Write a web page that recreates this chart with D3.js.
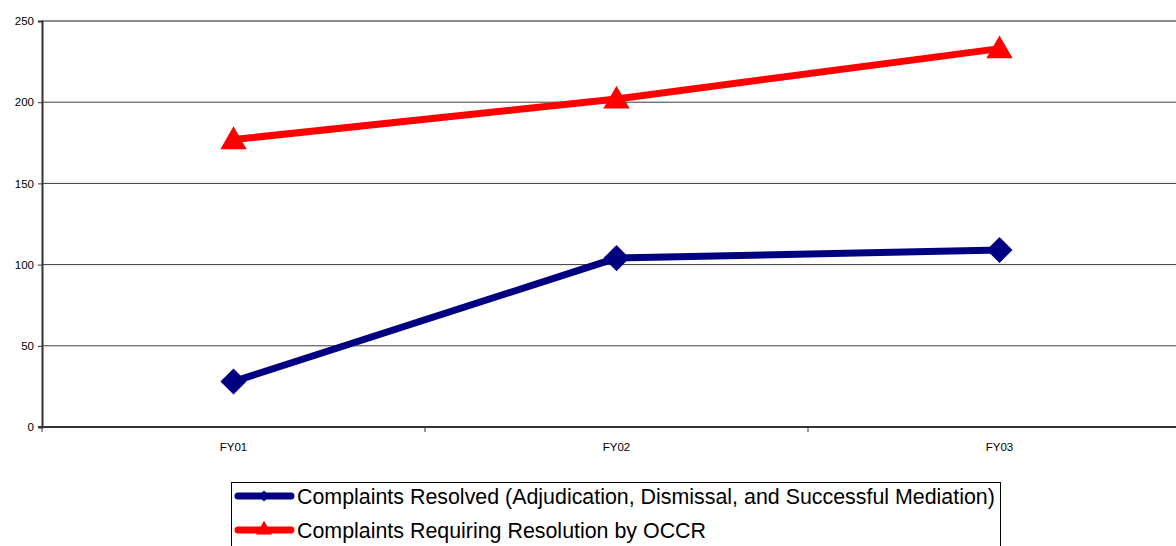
<!DOCTYPE html>
<html>
<head>
<meta charset="utf-8">
<script src="https://cdn.jsdelivr.net/npm/d3@7"></script>
<style>
  html, body { margin: 0; padding: 0; background: #fff; }
  svg { display: block; font-family: "Liberation Sans", Arial, sans-serif; }
</style>
</head>
<body>
<svg id="chart" width="1176" height="546"></svg>
<script>
// Fiscal years on the category axis
const categories = ["FY01", "FY02", "FY03"];
// Complaint counts per year
const resolved = [28, 104, 109];
const requiring = [177, 202, 233];
// Value axis ticks
const yTicks = [0, 50, 100, 150, 200, 250];
const seriesNames = [
  "Complaints Resolved (Adjudication, Dismissal, and Successful Mediation)",
  "Complaints Requiring Resolution by OCCR"
];

const svg = d3.select("#chart");
const plotLeft = 42, plotTop = 21, plotBottom = 427;
const bandW = 383;
const plotRight = plotLeft + bandW * categories.length;

const x = d3.scaleBand().domain(categories).range([plotLeft, plotRight]).paddingInner(0).paddingOuter(0);
const y = d3.scaleLinear().domain([0, 250]).range([plotBottom, plotTop]);

// horizontal gridlines
svg.append("g").selectAll("line").data(yTicks.filter(d => d > 0)).join("line")
  .attr("x1", plotLeft).attr("x2", plotRight)
  .attr("y1", d => y(d)).attr("y2", d => y(d))
  .attr("stroke", d => d === 250 ? "#8c8c8c" : "#3a3a3a")
  .attr("stroke-width", d => d === 250 ? 2 : 1);

// y axis
const yAxis = svg.append("g").attr("transform", `translate(${plotLeft},0)`)
  .call(d3.axisLeft(y).tickValues(yTicks).tickSize(4).tickPadding(4));
yAxis.select(".domain").attr("stroke", "#333").attr("stroke-width", 2);
yAxis.selectAll(".tick line").attr("stroke", "#333");
yAxis.selectAll("text").attr("font-size", 11.5).attr("fill", "#000")
  .attr("font-family", "'Liberation Sans', Arial, sans-serif");

// x axis with ticks on category boundaries
const xAxis = svg.append("g").attr("transform", `translate(0,${plotBottom})`);
xAxis.append("line").attr("x1", plotLeft - 4).attr("x2", plotRight)
  .attr("stroke", "#333").attr("stroke-width", 2);
const bounds = d3.range(categories.length + 1).map(i => plotLeft + i * x.step());
xAxis.selectAll(".tk").data(bounds).join("line").attr("class", "tk")
  .attr("x1", d => d).attr("x2", d => d).attr("y1", 0).attr("y2", 5)
  .attr("stroke", "#333");
xAxis.selectAll("text").data(categories).join("text")
  .attr("x", d => x(d) + x.bandwidth() / 2).attr("y", 24)
  .attr("text-anchor", "middle").attr("font-size", 11.5).text(d => d);

const line = d3.line().x((d, i) => x(categories[i]) + x.bandwidth() / 2).y(d => y(d));

const triangle = d3.symbol().type(d3.symbolTriangle).size(300);
const diamond = d3.symbol().type(d3.symbolSquare).size(340);

// red series: complaints requiring resolution
svg.append("path").datum(requiring).attr("d", line)
  .attr("fill", "none").attr("stroke", "#ff0000").attr("stroke-width", 7);
svg.append("g").selectAll("path").data(requiring).join("path")
  .attr("d", triangle)
  .attr("transform", (d, i) => `translate(${x(categories[i]) + x.bandwidth() / 2},${y(d) + 2})`)
  .attr("fill", "#ff0000");

// blue series: complaints resolved
svg.append("path").datum(resolved).attr("d", line)
  .attr("fill", "none").attr("stroke", "#000080").attr("stroke-width", 7);
svg.append("g").selectAll("path").data(resolved).join("path")
  .attr("d", diamond)
  .attr("transform", (d, i) => `translate(${x(categories[i]) + x.bandwidth() / 2},${y(d)}) rotate(45)`)
  .attr("fill", "#000080");

// legend
const lg = svg.append("g");
lg.append("rect").attr("x", 231.5).attr("y", 482.5).attr("width", 769).attr("height", 80)
  .attr("fill", "#fff").attr("stroke", "#000").attr("stroke-width", 1);
const rows = [
  { name: seriesNames[0], color: "#000080", sym: "diamond", cy: 496 },
  { name: seriesNames[1], color: "#ff0000", sym: "triangle", cy: 530 }
];
rows.forEach(r => {
  lg.append("line").attr("x1", 238).attr("x2", 291).attr("y1", r.cy).attr("y2", r.cy)
    .attr("stroke", r.color).attr("stroke-width", 7).attr("stroke-linecap", "round");
  if (r.sym === "diamond") {
    lg.append("path").attr("d", d3.symbol().type(d3.symbolSquare).size(60)())
      .attr("transform", `translate(264,${r.cy}) rotate(45)`).attr("fill", r.color);
  } else {
    lg.append("path").attr("d", d3.symbol().type(d3.symbolTriangle).size(110)())
      .attr("transform", `translate(264,${r.cy})`).attr("fill", r.color);
  }
  lg.append("text").attr("x", 297).attr("y", r.cy + 8).attr("font-size", 21.4)
    .attr("fill", "#000").text(r.name);
});
</script>
</body>
</html>
